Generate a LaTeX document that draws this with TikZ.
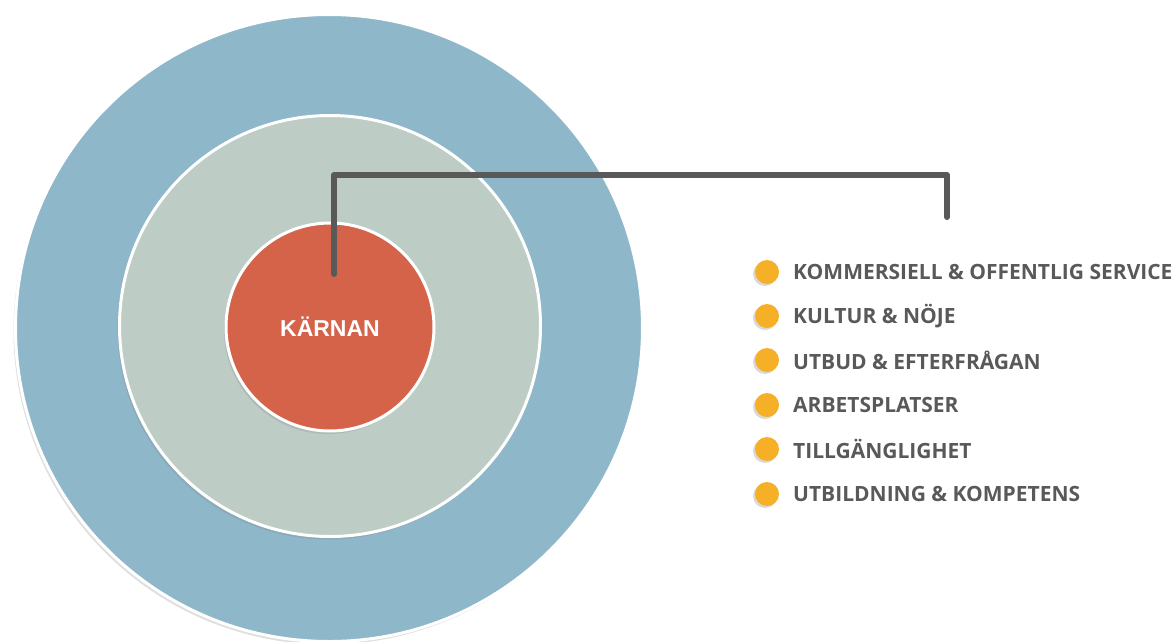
\documentclass[tikz,border=0pt]{standalone}
\usepackage{fontspec}
\setmainfont{Open Sans}
\newfontfamily\coresans{Liberation Sans}
\usetikzlibrary{shadows}
\definecolor{ringblue}{HTML}{8FB7CA}
\definecolor{ringgreen}{HTML}{BDCDC5}
\definecolor{corered}{HTML}{D4634A}
\definecolor{dotorange}{HTML}{F5B027}
\definecolor{textgray}{HTML}{595959}
\begin{document}
\begin{tikzpicture}[x=1pt,y=-1pt]
        \useasboundingbox (0,0) rectangle (1176,641);
        \begin{scope}[every node/.style={circle,draw=white,line width=3pt,inner sep=0pt,
                drop shadow={opacity=0.25,shadow xshift=-2pt,shadow yshift=-3pt}}]
            \node[fill=ringblue,minimum size=627pt] (outer) at (329,328) {};
            \node[fill=ringgreen,minimum size=421pt] (middle) at (330,326) {};
            \node[fill=corered,minimum size=208pt,font=\coresans\bfseries\fontsize{23}{27}\selectfont,text=white] (core) at (330,327) {KÄRNAN};
        \end{scope}
        \coordinate (linestart) at (334,274);
        \coordinate (linecorner) at (334,175);
        \coordinate (lineend) at (947,217);
        \draw[textgray,line width=6pt,line cap=round,line join=round] (linestart) -- (linecorner) -| (lineend);
        \begin{scope}[every node/.style={circle,fill=dotorange,minimum size=24pt,inner sep=0pt,
                drop shadow={opacity=0.3,shadow xshift=-2pt,shadow yshift=-2pt}}]
            \node (dot1) at (767,272) {};
            \node (dot2) at (767,316) {};
            \node (dot3) at (767,360) {};
            \node (dot4) at (767,405) {};
            \node (dot5) at (767,449) {};
            \node (dot6) at (767,494) {};
        \end{scope}
        \begin{scope}[every node/.style={anchor=west,inner sep=0pt,text=textgray,font=\bfseries\fontsize{21}{24}\selectfont}]
            \node (item1) at (793,272) {KOMMERSIELL \& OFFENTLIG SERVICE};
            \node (item2) at (793,316) {KULTUR \& NÖJE};
            \node (item3) at (793,360) {UTBUD \& EFTERFRÅGAN};
            \node (item4) at (793,405) {ARBETSPLATSER};
            \node (item5) at (793,449) {TILLGÄNGLIGHET};
            \node (item6) at (793,494) {UTBILDNING \& KOMPETENS};
        \end{scope}
    \end{tikzpicture}
\end{document}
